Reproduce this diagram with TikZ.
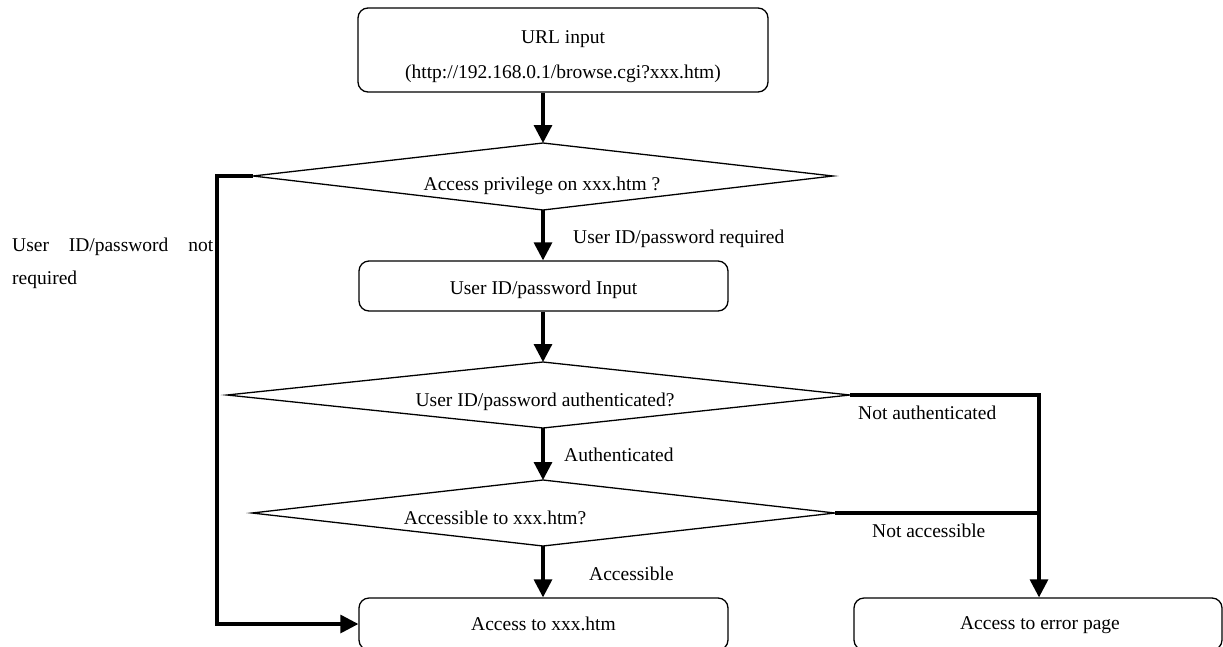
\documentclass[tikz,border=0pt]{standalone}
\usepackage{fontspec}
\setmainfont{Liberation Serif}
\usetikzlibrary{arrows.meta}
\newcommand{\lowerby}[2]{\raisebox{-#1}[\height][\depth]{#2}}
\begin{document}
\begin{tikzpicture}[x=1pt,y=-1pt,
  txt/.style={inner sep=0pt, font=\fontsize{19.5}{35}\selectfont, text height=0.76em, text depth=0.1em, yshift=-3pt},
  box/.style={draw, line width=1.3pt, rounded corners=10pt, inner sep=0pt, align=center,
    font=\fontsize{19.5}{35}\selectfont},
  dia/.style={draw, line width=1.3pt, line join=miter},
  flow/.style={line width=3.2pt, -{Triangle[width=18pt,length=18pt]}},
  link/.style={line width=3.2pt},
]
\useasboundingbox (0,0) rectangle (1223,646);
\clip (0,0) rectangle (1223,646);

% boxes
\node[box, minimum width=410pt, minimum height=84pt] (url) at (563,50)
  {\lowerby{6.5pt}{\shortstack{URL input\\[15pt](http://192.168.0.1/browse.cgi?xxx.htm)}}};
\node[box, minimum width=369pt, minimum height=50pt] (inp) at (543.5,286) {\lowerby{4pt}{User ID/password Input}};
\node[box, minimum width=369pt, minimum height=52pt] (acc) at (543.5,624) {Access to xxx.htm};
\node[box, minimum width=368pt, minimum height=52pt] (err) at (1038,624) {\lowerby{1pt}{\hspace{4pt}Access to error page}};

% diamonds
\coordinate (d1t) at (543,143); \coordinate (d1r) at (833,176);
\coordinate (d1b) at (543,210); \coordinate (d1l) at (253,176);
\draw[dia] (d1t) -- (d1r) -- (d1b) -- (d1l) -- cycle;
\node[txt] (q1) at (542,184) {Access privilege on xxx.htm ?};

\coordinate (d2t) at (543,362); \coordinate (d2r) at (850,395);
\coordinate (d2b) at (543,428); \coordinate (d2l) at (227,395);
\draw[dia] (d2t) -- (d2r) -- (d2b) -- (d2l) -- cycle;
\node[txt] (q2) at (545,400) {User ID/password authenticated?};

\coordinate (d3t) at (543,480); \coordinate (d3r) at (835,513);
\coordinate (d3b) at (543,546); \coordinate (d3l) at (252,513);
\draw[dia] (d3t) -- (d3r) -- (d3b) -- (d3l) -- cycle;
\node[txt] (q3) at (495,518) {Accessible to xxx.htm?};

% connectors
\coordinate (lx) at (217,176);
\coordinate (rx) at (1039,395);
\draw[flow] (url.south -| d1t) -- (d1t);
\draw[flow] (d1b) -- (inp.north -| d1b);
\draw[flow] (inp.south -| d2t) -- (d2t);
\draw[flow] (d2b) -- (d3t);
\draw[flow] (d3b) -- (acc.north -| d3b);
\draw[flow] (d1l) -- (lx) |- (acc.west);
\draw[flow] (d2r) -- (rx) -- (rx |- err.north);
\draw[link] (d3r) -- (d3r -| rx);

% labels
\node[txt, anchor=west] (l1) at (573,237) {User ID/password required};
\node[txt, anchor=west] (l2) at (564,455) {Authenticated};
\node[txt, anchor=west] (l3) at (589,574) {Accessible};
\node[txt, anchor=west] (l4) at (858,413) {Not authenticated};
\node[txt, anchor=west] (l5) at (872,531) {Not accessible};
\node[txt, anchor=west] (l6) at (12,245) {\makebox[201pt][s]{User ID/password not}};
\node[txt, anchor=west] (l7) at (12,278) {required};
\end{tikzpicture}
\end{document}
